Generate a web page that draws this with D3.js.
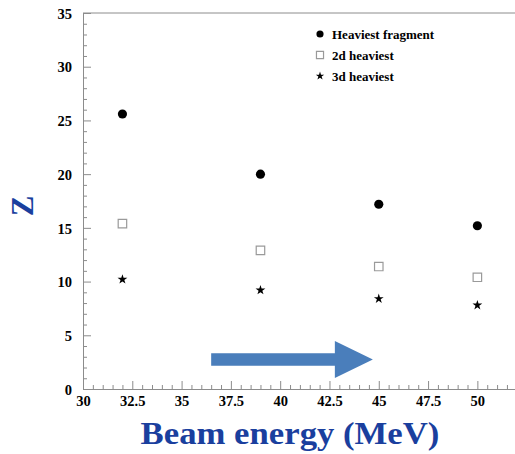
<!DOCTYPE html>
<html><head><meta charset="utf-8">
<script src="https://cdn.jsdelivr.net/npm/d3@7"></script>
<style>
body{margin:0;background:#fff;}
svg{display:block;}
.tk text{font-family:"Liberation Serif","Times New Roman",serif;font-weight:bold;font-size:14.5px;fill:#000;}
</style></head>
<body>
<svg id="c" width="515" height="454"></svg>
<script>
const energies = [32, 39, 45, 50];
const heaviest = [25.6, 20.0, 17.2, 15.2];
const second = [15.4, 12.9, 11.4, 10.4];
const third = [10.2, 9.2, 8.4, 7.8];
const seriesNames = ["Heaviest fragment", "2d heaviest", "3d heaviest"];
const xTicks = [30, 32.5, 35, 37.5, 40, 42.5, 45, 47.5, 50];
const yTicks = [0, 5, 10, 15, 20, 25, 30, 35];
const arrowFrom = 36.5, arrowTo = 44.7, arrowLevel = 2.75;

const svg = d3.select("#c");
const x = d3.scaleLinear().domain([30, 52]).range([83, 516.8]);
const y = d3.scaleLinear().domain([0, 35]).range([389, 13]);
const frameCol = "#8c8c8c";

// frame
svg.append("line").attr("x1", x(30)).attr("x2", 515).attr("y1", y(35)).attr("y2", y(35)).attr("stroke", frameCol);

// minor ticks
const xMinor = d3.range(30, 52.01, 0.5).filter(v => xTicks.indexOf(v) < 0);
const yMinor = d3.range(0, 35.01, 1).filter(v => v % 5 !== 0);
svg.append("g").attr("class","tk").attr("transform", `translate(0,${y(0)})`)
  .call(d3.axisBottom(x).tickValues(xMinor).tickSizeInner(-4).tickSizeOuter(0).tickFormat(""))
  .call(g => g.select(".domain").remove())
  .call(g => g.selectAll("line").attr("stroke", frameCol));
svg.append("g").attr("class","tk").attr("transform", `translate(${x(30)},0)`)
  .call(d3.axisLeft(y).tickValues(yMinor).tickSizeInner(-4).tickSizeOuter(0).tickFormat(""))
  .call(g => g.select(".domain").remove())
  .call(g => g.selectAll("line").attr("stroke", frameCol));

// major axes
const xa = svg.append("g").attr("class","tk").attr("transform", `translate(0,${y(0)})`)
  .call(d3.axisBottom(x).tickValues(xTicks.concat([52])).tickSizeInner(-8).tickSizeOuter(0).tickPadding(7)
    .tickFormat(d => xTicks.indexOf(d) >= 0 ? String(d) : ""));
xa.select(".domain").attr("stroke", frameCol);
xa.selectAll("line").attr("stroke", frameCol);
xa.selectAll("text").attr("font-size", 14);
const ya = svg.append("g").attr("class","tk").attr("transform", `translate(${x(30)},0)`)
  .call(d3.axisLeft(y).tickValues(yTicks).tickSizeInner(-8).tickSizeOuter(0).tickPadding(11));
ya.select(".domain").attr("stroke", frameCol);
ya.selectAll("line").attr("stroke", frameCol);
ya.selectAll("text").attr("dy", "0.36em").attr("font-size", 15);

// data
const circ = d3.symbol().type(d3.symbolCircle).size(66);
const sq = d3.symbol().type(d3.symbolSquare).size(72);
const star = d3.symbol().type(d3.symbolStar).size(30);
svg.append("g").selectAll("path").data(energies).join("path")
  .attr("d", circ).attr("transform", (d,i) => `translate(${x(d)},${y(heaviest[i])})`).attr("fill", "#000");
svg.append("g").selectAll("path").data(energies).join("path")
  .attr("d", sq).attr("transform", (d,i) => `translate(${x(d)},${y(second[i])})`)
  .attr("fill", "#fff").attr("stroke", "#9a9a9a").attr("stroke-width", 1.2);
svg.append("g").selectAll("path").data(energies).join("path")
  .attr("d", star).attr("transform", (d,i) => `translate(${x(d)},${y(third[i])})`).attr("fill", "#000");

// legend
const leg = svg.append("g");
const legSyms = [
  d3.symbol().type(d3.symbolCircle).size(40),
  d3.symbol().type(d3.symbolSquare).size(50),
  d3.symbol().type(d3.symbolStar).size(22)
];
seriesNames.forEach((n, i) => {
  const yy = 34 + i * 21;
  const p = leg.append("path").attr("d", legSyms[i]).attr("transform", `translate(320,${yy})`);
  if (i === 1) p.attr("fill", "#fff").attr("stroke", "#9a9a9a").attr("stroke-width", 1.2);
  leg.append("text").attr("x", 332).attr("y", yy).attr("dy", "0.35em")
    .attr("font-family", "Liberation Serif, serif").attr("font-weight", "bold").attr("font-size", 13)
    .text(n);
});

// arrow
const ax0 = x(arrowFrom), ax1 = x(arrowTo), ay = y(arrowLevel);
const headLen = 38, bodyH = 6.3, headH = 18.5;
svg.append("path")
  .attr("d", `M${ax0},${ay-bodyH}L${ax1-headLen},${ay-bodyH}L${ax1-headLen},${ay-headH}L${ax1},${ay}L${ax1-headLen},${ay+headH}L${ax1-headLen},${ay+bodyH}L${ax0},${ay+bodyH}Z`)
  .attr("fill", "#4a7ebb");

// axis titles
const blue = "#1a3f9e";
svg.append("text").attr("transform", "translate(33,206) rotate(-90)").attr("text-anchor", "middle")
  .attr("font-family", "Liberation Serif, serif").attr("font-weight", "bold").attr("font-size", 31)
  .attr("fill", blue).text("Z");
svg.append("text").attr("transform", "translate(290,444) scale(1.12,1)").attr("text-anchor", "middle")
  .attr("font-family", "Liberation Serif, serif").attr("font-weight", "bold").attr("font-size", 31)
  .attr("fill", blue).text("Beam energy (MeV)");
</script>
</body></html>
